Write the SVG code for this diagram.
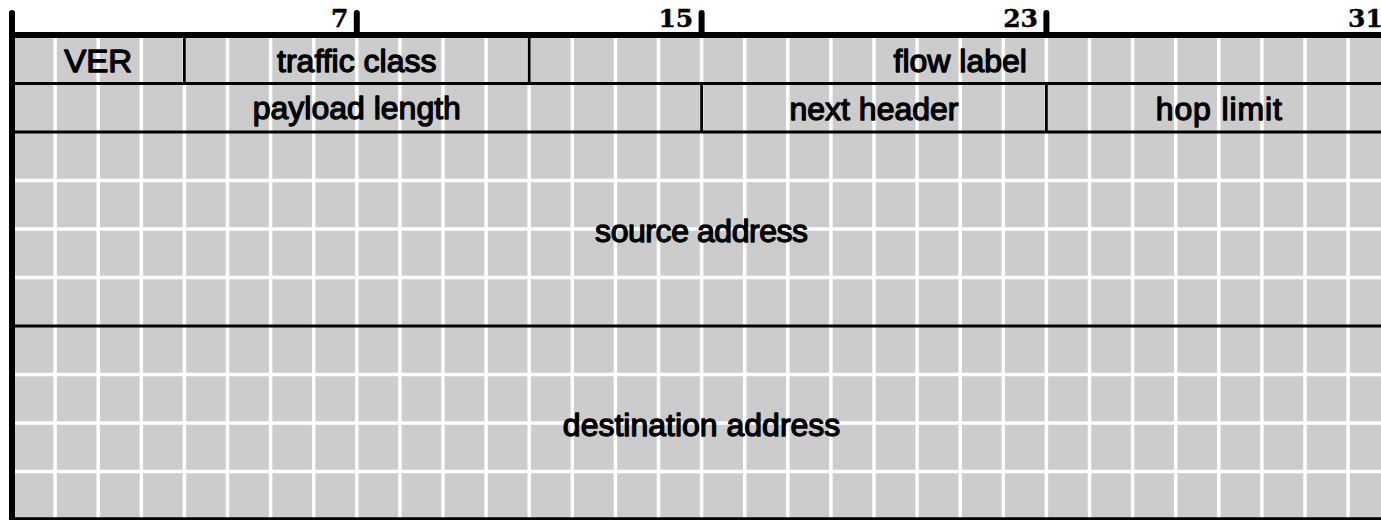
<svg xmlns="http://www.w3.org/2000/svg" width="1381" height="520" viewBox="0 0 1381 520">
<style>
.bg{fill:#cccccc}
.grid line{stroke:#ffffff;stroke-width:3.5}
.field{stroke:#000;stroke-width:2.8;fill:none}
.thick{stroke:#000;stroke-width:6;fill:none}
.tick{stroke:#000;stroke-width:6;stroke-linecap:round}
.lbl{font-family:"Liberation Sans",Arial,sans-serif;font-size:32px;fill:#000;stroke:#000;stroke-width:1.3;stroke-linejoin:round;text-anchor:middle}
.num{font-family:"DejaVu Serif",serif;font-weight:bold;font-size:25px;fill:#000;stroke:#000;stroke-width:0.4;text-anchor:end}
</style>
<rect class="bg" x="12" y="35" width="1379.2" height="485"/>
<g class="grid">
<line x1="55.1" y1="35" x2="55.1" y2="520"/><line x1="98.2" y1="35" x2="98.2" y2="520"/><line x1="141.3" y1="35" x2="141.3" y2="520"/><line x1="184.4" y1="35" x2="184.4" y2="520"/>
<line x1="227.5" y1="35" x2="227.5" y2="520"/><line x1="270.6" y1="35" x2="270.6" y2="520"/><line x1="313.7" y1="35" x2="313.7" y2="520"/><line x1="356.8" y1="35" x2="356.8" y2="520"/>
<line x1="399.9" y1="35" x2="399.9" y2="520"/><line x1="443" y1="35" x2="443" y2="520"/><line x1="486.1" y1="35" x2="486.1" y2="520"/><line x1="529.2" y1="35" x2="529.2" y2="520"/>
<line x1="572.3" y1="35" x2="572.3" y2="520"/><line x1="615.4" y1="35" x2="615.4" y2="520"/><line x1="658.5" y1="35" x2="658.5" y2="520"/><line x1="701.6" y1="35" x2="701.6" y2="520"/>
<line x1="744.7" y1="35" x2="744.7" y2="520"/><line x1="787.8" y1="35" x2="787.8" y2="520"/><line x1="830.9" y1="35" x2="830.9" y2="520"/><line x1="874" y1="35" x2="874" y2="520"/>
<line x1="917.1" y1="35" x2="917.1" y2="520"/><line x1="960.2" y1="35" x2="960.2" y2="520"/><line x1="1003.3" y1="35" x2="1003.3" y2="520"/><line x1="1046.4" y1="35" x2="1046.4" y2="520"/>
<line x1="1089.5" y1="35" x2="1089.5" y2="520"/><line x1="1132.6" y1="35" x2="1132.6" y2="520"/><line x1="1175.7" y1="35" x2="1175.7" y2="520"/><line x1="1218.8" y1="35" x2="1218.8" y2="520"/>
<line x1="1261.9" y1="35" x2="1261.9" y2="520"/><line x1="1305" y1="35" x2="1305" y2="520"/><line x1="1348.1" y1="35" x2="1348.1" y2="520"/>
<line x1="12" y1="180.5" x2="1391" y2="180.5"/><line x1="12" y1="229" x2="1391" y2="229"/><line x1="12" y1="277.5" x2="1391" y2="277.5"/>
<line x1="12" y1="374.5" x2="1391" y2="374.5"/><line x1="12" y1="423" x2="1391" y2="423"/><line x1="12" y1="471.5" x2="1391" y2="471.5"/>
</g>
<g id="connectors">
<line class="field" x1="12" y1="83.5" x2="1391" y2="83.5"/>
<line class="field" x1="12" y1="132" x2="1391" y2="132"/>
<line class="field" x1="12" y1="326" x2="1391" y2="326"/>
<line class="field" x1="184.4" y1="35" x2="184.4" y2="83.5"/>
<line class="field" x1="529.2" y1="35" x2="529.2" y2="83.5"/>
<line class="field" x1="701.6" y1="83.5" x2="701.6" y2="132"/>
<line class="field" x1="1046.4" y1="83.5" x2="1046.4" y2="132"/>
<line class="thick" x1="12" y1="35" x2="1391" y2="35"/>
<line class="thick" x1="12" y1="520.2" x2="1391" y2="520.2"/>
<line class="tick" x1="12" y1="13" x2="12" y2="522"/>
<line class="tick" x1="356.8" y1="13" x2="356.8" y2="35"/>
<line class="tick" x1="701.6" y1="13" x2="701.6" y2="35"/>
<line class="tick" x1="1046.4" y1="13" x2="1046.4" y2="35"/>
</g>
<g id="bit-numbers">
<text class="num" x="348.4" y="26.8">7</text>
<text class="num" x="693.2" y="26.8">15</text>
<text class="num" x="1038" y="26.8">23</text>
<text class="num" x="1382.8" y="26.8">31</text>
</g>
<g id="ver"><text class="lbl" x="98.2" y="71.5" textLength="68" lengthAdjust="spacingAndGlyphs">VER</text></g>
<g id="traffic-class"><text class="lbl" x="356.8" y="71.8">traffic class</text></g>
<g id="flow-label"><text class="lbl" x="960.2" y="71.8">flow label</text></g>
<g id="payload-length"><text class="lbl" x="356.8" y="119">payload length</text></g>
<g id="next-header"><text class="lbl" x="874" y="120">next header</text></g>
<g id="hop-limit"><text class="lbl" x="1218.8" y="120" textLength="126" lengthAdjust="spacing">hop limit</text></g>
<g id="source-address"><text class="lbl" x="701.6" y="241.7" textLength="213" lengthAdjust="spacing">source address</text></g>
<g id="destination-address"><text class="lbl" x="701.6" y="435.5">destination address</text></g>
</svg>
